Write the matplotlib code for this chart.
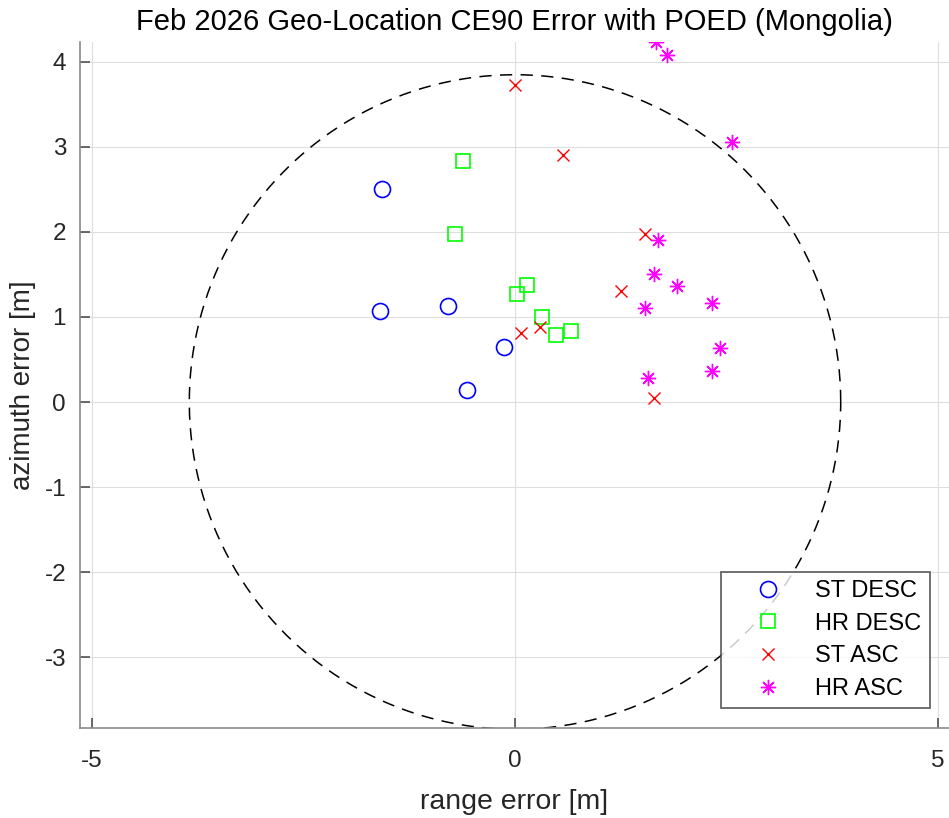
import numpy as np
import matplotlib
matplotlib.use("Agg")
import matplotlib.pyplot as plt

plt.rcParams["font.family"] = ["Liberation Sans", "DejaVu Sans"]
plt.rcParams["axes.unicode_minus"] = False

# range / azimuth errors [m] per product
st_desc_x = [-1.57, -1.60, -0.79, -0.13, -0.57]
st_desc_y = [2.51, 1.07, 1.13, 0.65, 0.14]

hr_desc_x = [-0.61, -0.71, 0.14, 0.02, 0.32, 0.48, 0.66]
hr_desc_y = [2.84, 1.98, 1.38, 1.27, 1.00, 0.79, 0.84]

st_asc_x = [0.00, 0.57, 1.54, 1.25, 0.07, 0.30, 1.64]
st_asc_y = [3.73, 2.91, 1.98, 1.30, 0.81, 0.88, 0.05]

hr_asc_x = [1.67, 1.80, 2.56, 1.69, 1.64, 1.91, 1.54, 2.33, 2.42, 2.33, 1.57]
hr_asc_y = [4.24, 4.08, 3.06, 1.91, 1.51, 1.37, 1.10, 1.16, 0.63, 0.36, 0.28]

ce90 = 3.85

fig = plt.figure(figsize=(9.49, 8.18), dpi=100)
ax = fig.add_axes([80 / 949, 90 / 818, 869 / 949, 686 / 818])

# CE90 circle
theta = np.linspace(0, 2 * np.pi, 400)
ax.plot(ce90 * np.cos(theta), ce90 * np.sin(theta), "k--", lw=1.1, dashes=(8, 5.5))

ax.plot(st_desc_x, st_desc_y, "o", ls="none", mfc="none", mec="#0000ff",
        ms=11.5, mew=1.2, label="ST DESC")
ax.plot(hr_desc_x, hr_desc_y, "s", ls="none", mfc="none", mec="#00ff00",
        ms=10, mew=1.2, label="HR DESC")
ax.plot(st_asc_x, st_asc_y, "x", ls="none", color="#ff0000",
        ms=8, mew=1.0, label="ST ASC")
ax.plot(hr_asc_x, hr_asc_y, marker=(8, 2, 0), ls="none", color="#ff00ff",
        ms=11, mew=1.0, label="HR ASC")

ax.set_xlim(-5.142, 5.13)
ax.set_ylim(-3.835, 4.235)
ax.set_xticks([-5, 0, 5])
ax.set_yticks(range(-3, 5))

ax.grid(True, color="#dedede", lw=0.8)
ax.set_axisbelow(True)
for side in ["top", "right"]:
    ax.spines[side].set_visible(False)
for side in ["left", "bottom"]:
    ax.spines[side].set_color("#8a8a8a")
    ax.spines[side].set_linewidth(1.2)
ax.tick_params(direction="in", length=7, width=1.2, color="#505050",
               labelsize=17.5, labelcolor="#262626")
ax.tick_params(axis="x", pad=16)
ax.tick_params(axis="y", pad=10)

ax.set_title("Feb 2026 Geo-Location CE90 Error with POED (Mongolia)",
             fontsize=21, pad=9)
ax.set_xlabel("range error [m]", fontsize=20.5, color="#262626", labelpad=12)
ax.set_ylabel("azimuth error [m]", fontsize=20, color="#262626", labelpad=6)

leg = ax.legend(loc="lower right", bbox_to_anchor=(0.978, 0.029), fontsize=17,
                frameon=True, fancybox=False, edgecolor="#404040",
                handlelength=3.3, handletextpad=0.35, borderpad=0.35,
                labelspacing=0.45, borderaxespad=0)
leg.get_frame().set_linewidth(1.3)

fig.savefig("out.png", dpi=100)
